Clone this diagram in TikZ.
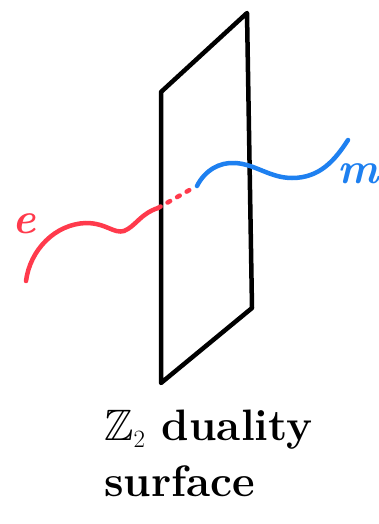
\documentclass[tikz,border=0pt]{standalone}
\usepackage{amssymb}
\usetikzlibrary{positioning}
\definecolor{ered}{HTML}{FF3A4C}
\definecolor{mblue}{HTML}{1E80F0}

\begin{document}
\begin{tikzpicture}[
  x=1pt, y=-1pt,
  sheet/.style={draw=black, line width=4.5pt, line join=round, line cap=round},
  eline/.style={draw=ered, line width=4.5pt, line cap=round},
  mline/.style={draw=mblue, line width=4.5pt, line cap=round},
  hidden/.style={draw=ered, line width=4.5pt, line cap=round, dash pattern=on 3pt off 8pt},
  lbl/.style={font=\fontsize{44}{50}\selectfont\bfseries\itshape, inner sep=0pt},
  caption/.style={font=\fontsize{44}{50}\selectfont\bfseries, inner sep=0pt},
]
\useasboundingbox (0,0) rectangle (379,524);

% the surface
\coordinate (tl) at (161,92);
\coordinate (tr) at (247,13);
\coordinate (br) at (252,308);
\coordinate (bl) at (161,383);
\draw[sheet] (tl) -- (tr) -- (br) -- (bl) -- cycle;

% electric line
\coordinate (e0) at (26,281);
\coordinate (e1) at (158,208);
\coordinate (e2) at (193,188);
\draw[eline] (e0) .. controls (30,250) and (55,224) .. (86,223)
  .. controls (106,223) and (114,234) .. (124,231)
  .. controls (136,226) and (140,214) .. (e1);
\draw[hidden] (e1) -- (e2);

% magnetic line
\coordinate (m0) at (197,186);
\coordinate (m1) at (348,140);
\draw[mline] (m0) .. controls (205,170) and (220,162) .. (235,163)
  .. controls (255,164) and (270,178) .. (292,178)
  .. controls (320,178) and (335,160) .. (m1);

% labels
\node[lbl, text=ered] (e) at (24,224) {e};
\node[lbl, text=mblue] (m) at (358,174) {m};
\node[caption, anchor=base west] (dual) at (104,440) {$\mathbb{Z}_2$ duality};
\node[caption, anchor=base west] (surf) at (104,496) {surface};
\end{tikzpicture}
\end{document}
